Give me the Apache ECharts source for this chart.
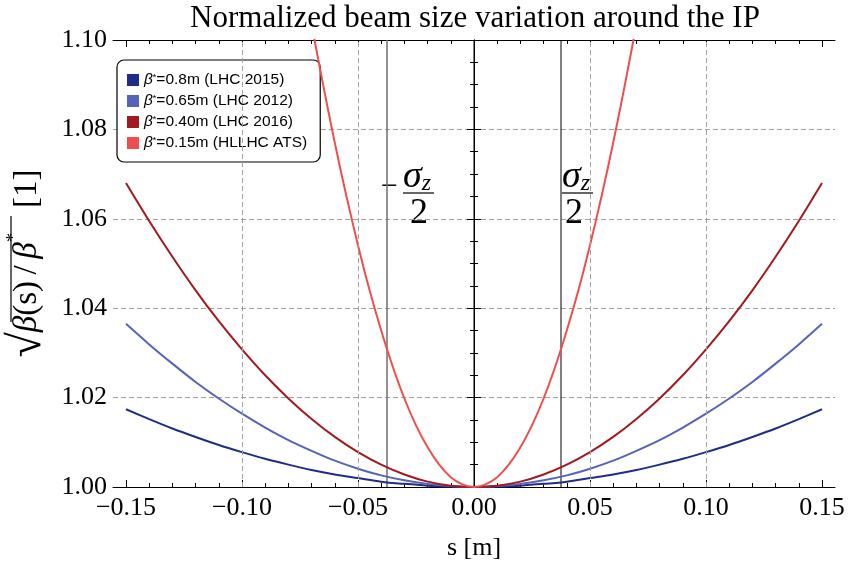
<!DOCTYPE html>
<html>
<head>
<meta charset="utf-8">
<title>Normalized beam size variation around the IP</title>
<script src="https://cdn.jsdelivr.net/npm/echarts@6/dist/echarts.min.js"></script>
<style>
  html, body { margin: 0; padding: 0; background: #fff; }
  #chart { width: 850px; height: 570px; }
</style>
</head>
<body>
<div id="chart"></div>
<script>
// s positions (m) for the three wide curves
const sWide = [-0.15, -0.14, -0.13, -0.12, -0.11, -0.10, -0.09, -0.08, -0.07, -0.06, -0.05,
  -0.04, -0.03, -0.02, -0.01, 0.00, 0.01, 0.02, 0.03, 0.04, 0.05, 0.06, 0.07, 0.08, 0.09,
  0.10, 0.11, 0.12, 0.13, 0.14, 0.15]

const yB080 = [1.0174, 1.0152, 1.0131, 1.0112, 1.0094, 1.0078, 1.0063, 1.0050, 1.0038, 1.0028, 1.0020,
  1.0012, 1.0007, 1.0003, 1.0001, 1.0000, 1.0001, 1.0003, 1.0007, 1.0012, 1.0020, 1.0028, 1.0038,
  1.0050, 1.0063, 1.0078, 1.0094, 1.0112, 1.0131, 1.0152, 1.0174]

const yB065 = [1.0365, 1.0319, 1.0276, 1.0235, 1.0198, 1.0164, 1.0133, 1.0105, 1.0081, 1.0059, 1.0041,
  1.0026, 1.0015, 1.0007, 1.0002, 1.0000, 1.0002, 1.0007, 1.0015, 1.0026, 1.0041, 1.0059, 1.0081,
  1.0105, 1.0133, 1.0164, 1.0198, 1.0235, 1.0276, 1.0319, 1.0365]

const yB040 = [1.0680, 1.0595, 1.0515, 1.0440, 1.0371, 1.0308, 1.0250, 1.0198, 1.0152, 1.0112, 1.0078,
  1.0050, 1.0028, 1.0012, 1.0003, 1.0000, 1.0003, 1.0012, 1.0028, 1.0050, 1.0078, 1.0112, 1.0152,
  1.0198, 1.0250, 1.0308, 1.0371, 1.0440, 1.0515, 1.0595, 1.0680]

// s positions (m) for the narrow HL-LHC curve
const sNarrow = [-0.075, -0.070, -0.065, -0.060, -0.055, -0.050, -0.045, -0.040, -0.035, -0.030, -0.025,
  -0.020, -0.015, -0.010, -0.005, 0.000, 0.005, 0.010, 0.015, 0.020, 0.025, 0.030, 0.035, 0.040,
  0.045, 0.050, 0.055, 0.060, 0.065, 0.070, 0.075]

const yB015 = [1.1180, 1.1035, 1.0899, 1.0770, 1.0651, 1.0541, 1.0440, 1.0350, 1.0269, 1.0198, 1.0138,
  1.0089, 1.0050, 1.0022, 1.0006, 1.0000, 1.0006, 1.0022, 1.0050, 1.0089, 1.0138, 1.0198, 1.0269,
  1.0350, 1.0440, 1.0541, 1.0651, 1.0770, 1.0899, 1.1035, 1.1180]

const legendNames = ['b080', 'b065', 'b040', 'b015']
const legendLabels = {
  b080: '0.8m (LHC 2015)',
  b065: '0.65m (LHC 2012)',
  b040: '0.40m (LHC 2016)',
  b015: '0.15m (HLLHC ATS)'
}

const xMajor = [-0.15, -0.10, -0.05, 0.00, 0.05, 0.10, 0.15]
const xMinor = [-0.14, -0.13, -0.12, -0.11, -0.09, -0.08, -0.07, -0.06, -0.04, -0.03, -0.02, -0.01,
  0.01, 0.02, 0.03, 0.04, 0.06, 0.07, 0.08, 0.09, 0.11, 0.12, 0.13, 0.14]
const xGrid = [-0.10, -0.05, 0.05, 0.10]
// vertical markers: -sigma_z/2, IP, +sigma_z/2
const sMarkers = [-0.0375, 0.0, 0.0375]
const yRange = [1.0, 1.1]

const X_MIN = -0.1556
const X_MAX = 0.1556
const SERIF = '"Liberation Serif", "DejaVu Serif", serif'
const SANS = '"Liberation Sans", Arial, sans-serif'

function zip(xs, ys) {
  return xs.map((x, i) => [x, ys[i]])
}

function fmtX(v) {
  const t = Math.abs(v).toFixed(2)
  return v < -1e-9 ? '\u2212' + t : t
}

const chart = echarts.init(document.getElementById('chart'))

function xAxisBase(position, values, len, showLine) {
  return {
    type: 'value',
    position: position,
    min: X_MIN,
    max: X_MAX,
    axisLine: { show: showLine, onZero: false, lineStyle: { color: '#000', width: 1 } },
    axisTick: { show: true, inside: true, length: len, customValues: values, lineStyle: { color: '#000', width: 1 } },
    axisLabel: { show: false },
    splitLine: { show: false }
  }
}

const bottomMajor = xAxisBase('bottom', xMajor, 7, true)
bottomMajor.axisLabel = {
  show: true,
  customValues: xMajor,
  formatter: fmtX,
  fontFamily: SERIF,
  fontSize: 26,
  color: '#000',
  margin: 8
}
bottomMajor.name = 's [m]'
bottomMajor.nameLocation = 'middle'
bottomMajor.nameGap = 48
bottomMajor.nameTextStyle = { fontFamily: SERIF, fontSize: 26, color: '#000' }

const lineSeries = (name, color, data, z) => ({
  name: name,
  type: 'line',
  data: data,
  smooth: 0.3,
  showSymbol: false,
  symbol: 'none',
  clip: true,
  z: z,
  lineStyle: { color: color, width: 2 },
  itemStyle: { color: color }
})

const markerSeries = (s, color, width) => ({
  type: 'line',
  data: yRange.map(y => [s, y]),
  showSymbol: false,
  symbol: 'none',
  silent: true,
  z: 3,
  lineStyle: { color: color, width: width },
  tooltip: { show: false }
})

const gridLineStyle = { color: '#a0a0a0', type: [5, 3], width: 1 }

const s080 = lineSeries('b080', '#1f2d86', zip(sWide, yB080), 4)
s080.markLine = {
  silent: true,
  symbol: 'none',
  label: { show: false },
  animation: false,
  data: xGrid.map(v => ({ xAxis: v, lineStyle: gridLineStyle }))
}

const option = {
  animation: false,
  backgroundColor: '#fff',
  title: {
    text: 'Normalized beam size variation around the IP',
    left: 470,
    textAlign: 'center',
    top: -2,
    textStyle: { fontFamily: SERIF, fontSize: 31, fontWeight: 'normal', color: '#000' }
  },
  legend: {
    data: legendNames,
    orient: 'vertical',
    left: 117,
    top: 60,
    padding: [12, 13, 11, 10],
    itemWidth: 12,
    itemHeight: 12,
    itemGap: 5,
    icon: 'rect',
    backgroundColor: '#fff',
    borderColor: '#000',
    borderWidth: 1.2,
    borderRadius: 7,
    selectedMode: false,
    formatter: name => '{b|\u03b2}{s|*}=' + legendLabels[name],
    textStyle: {
      fontFamily: SANS,
      fontSize: 15.5,
      color: '#000',
      lineHeight: 14,
      rich: {
        b: { fontFamily: SANS, fontStyle: 'italic', fontSize: 15.5, color: '#000' },
        s: { fontFamily: SANS, fontSize: 9, color: '#000', verticalAlign: 'top', padding: [0, 0, 6, 0] }
      }
    }
  },
  grid: { left: 113, right: 15, top: 40, bottom: 83, outerBoundsMode: 'none' },
  xAxis: [
    bottomMajor,
    xAxisBase('bottom', xMinor, 4, false),
    xAxisBase('top', xMajor, 7, true),
    xAxisBase('top', xMinor, 4, false)
  ],
  yAxis: [
    {
      type: 'value',
      position: 'left',
      min: 1.0,
      max: 1.1,
      interval: 0.02,
      axisLine: { show: true, lineStyle: { color: '#000', width: 1 } },
      axisTick: { show: true, inside: true, length: 7, lineStyle: { color: '#000' } },
      minorTick: { show: true, splitNumber: 4, length: 4, lineStyle: { color: '#000' } },
      axisLabel: {
        formatter: v => v.toFixed(2),
        fontFamily: SERIF,
        fontSize: 26,
        color: '#000',
        margin: 6
      },
      splitLine: { show: true, lineStyle: gridLineStyle },
      name: '{r|\u221a}{i|\u03b2}(s)\u2009/\u2009{i|\u03b2}{u|*}   [1]',
      nameLocation: 'middle',
      nameGap: 56,
      nameTextStyle: {
        fontFamily: SERIF,
        fontSize: 33,
        color: '#000',
        rich: {
          r: { fontFamily: SERIF, fontSize: 46, color: '#000' },
          i: { fontFamily: SERIF, fontSize: 33, fontStyle: 'italic', color: '#000' },
          u: { fontFamily: SERIF, fontSize: 19, color: '#000', verticalAlign: 'top', padding: [0, 0, 15, 0] }
        }
      }
    },
    {
      type: 'value',
      position: 'right',
      min: 1.0,
      max: 1.1,
      interval: 0.02,
      axisLine: { show: true, lineStyle: { color: '#000', width: 1 } },
      axisTick: { show: true, inside: true, length: 7, lineStyle: { color: '#000' } },
      minorTick: { show: true, splitNumber: 4, length: 4, lineStyle: { color: '#000' } },
      axisLabel: { show: false },
      splitLine: { show: false }
    }
  ],
  graphic: [
    // overline of the square root in the y-axis title
    { type: 'line', shape: { x1: 11, y1: 216, x2: 11, y2: 322 }, style: { stroke: '#000', lineWidth: 1.2 }, z: 10 },
    // -sigma_z / 2
    { type: 'text', left: 381, top: 172, style: { text: '\u2212', font: '30px ' + SERIF, fill: '#000' } },
    {
      type: 'text', left: 403, top: 158,
      style: {
        text: '{s|\u03c3}{z|z}',
        rich: {
          s: { font: 'italic 38px ' + SERIF, fill: '#000' },
          z: { font: 'italic 24px ' + SERIF, fill: '#000', verticalAlign: 'bottom', padding: [12, 0, 0, 0] }
        }
      }
    },
    { type: 'line', shape: { x1: 403, y1: 193, x2: 434, y2: 193 }, style: { stroke: '#000', lineWidth: 1.2 } },
    { type: 'text', left: 410, top: 196, style: { text: '2', font: '36px ' + SERIF, fill: '#000' } },
    // +sigma_z / 2
    {
      type: 'text', left: 562, top: 158,
      style: {
        text: '{s|\u03c3}{z|z}',
        rich: {
          s: { font: 'italic 38px ' + SERIF, fill: '#000' },
          z: { font: 'italic 24px ' + SERIF, fill: '#000', verticalAlign: 'bottom', padding: [12, 0, 0, 0] }
        }
      }
    },
    { type: 'line', shape: { x1: 562, y1: 193, x2: 593, y2: 193 }, style: { stroke: '#000', lineWidth: 1.2 } },
    { type: 'text', left: 565, top: 196, style: { text: '2', font: '36px ' + SERIF, fill: '#000' } }
  ],
  series: [
    markerSeries(sMarkers[0], '#6e6e6e', 1.5),
    markerSeries(sMarkers[1], '#000', 1),
    markerSeries(sMarkers[2], '#000', 1),
    s080,
    lineSeries('b065', '#5563b9', zip(sWide, yB065), 4),
    lineSeries('b040', '#a2191f', zip(sWide, yB040), 4),
    lineSeries('b015', '#f04e4e', zip(sNarrow, yB015), 4)
  ]
}

chart.setOption(option)
window.addEventListener('resize', () => chart.resize())
</script>
</body>
</html>
